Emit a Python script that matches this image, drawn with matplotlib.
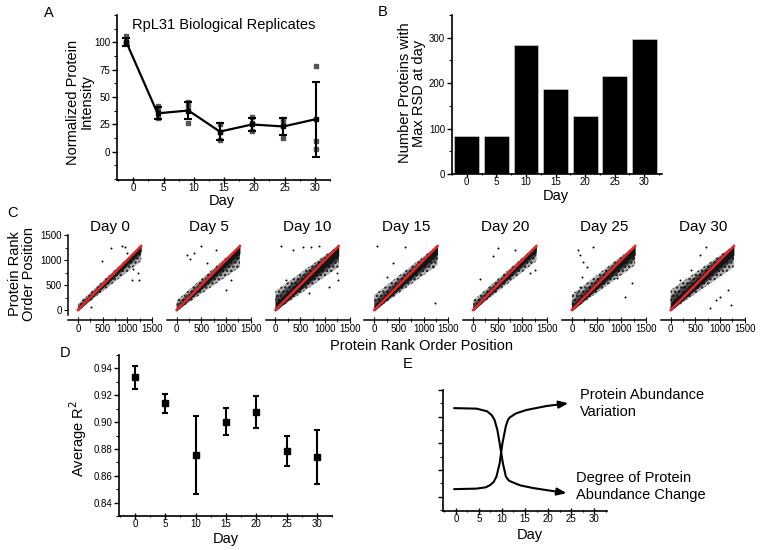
import numpy as np
import matplotlib
matplotlib.use("Agg")
import matplotlib.pyplot as plt
from matplotlib.ticker import MultipleLocator, NullFormatter

plt.rcParams['font.family'] = ['Liberation Sans', 'DejaVu Sans']
plt.rcParams['hatch.linewidth'] = 1.2

# ---------------- data ----------------
days = [0, 5, 10, 15, 20, 25, 30]

# Panel A
a_xpos = [-1.15, 4.0, 9.1, 14.3, 19.6, 24.8, 30.2]
a_mean = [100, 35, 37.6, 18.3, 24.8, 23, 29.7]
a_err = [3.5, 5.5, 7.6, 7.7, 6.3, 7.6, 34.3]
a_rep1 = [106, 42, 45, 25.4, 32, 29.7, 78]
a_rep2 = [101, 39, 42, 18, 26.6, 27, 10]
a_rep3 = [99, 31, 26.6, 10.7, 19.3, 12, 2]

# Panel B
b_counts = [83, 83, 285, 188, 127, 216, 298]

# Panel C  (cloud extent around the diagonal, read at rank 0 and at max rank)
c_titles = ['Day 0', 'Day 5', 'Day 10', 'Day 15', 'Day 20', 'Day 25', 'Day 30']
rank_max = 1280
c_inner_lo = [(-50, -110), (-60, -150), (-120, -200), (-100, -170), (-60, -120), (-100, -170), (-100, -180)]
c_inner_hi = [(50, 110), (60, 120), (150, 200), (100, 160), (60, 120), (100, 160), (150, 210)]
c_mid_lo = [(-70, -180), (-90, -260), (-210, -300), (-170, -270), (-100, -200), (-170, -270), (-180, -280)]
c_mid_hi = [(80, 180), (110, 210), (260, 300), (180, 260), (120, 200), (180, 260), (270, 330)]
c_outer_lo = [(-90, -300), (-120, -420), (-300, -420), (-260, -380), (-170, -300), (-260, -380), (-300, -420)]
c_outer_hi = [(120, 260), (190, 310), (380, 430), (300, 380), (190, 300), (310, 380), (400, 450)]
c_out_x = [
    [662, 885, 953, 480, 1088, 1223, 1243, 1122, 257, 986],
    [216, 270, 351, 486, 993, 790, 621, 1095],
    [108, 345, 547, 716, 885, 1250, 1257, 1088, 682, 209, 345],
    [61, 385, 622, 1230, 1196, 1061, 250],
    [514, 142, 412, 1257, 1155, 851, 1020],
    [128, 162, 230, 297, 162, 95, 432, 905, 1209, 1074, 196],
    [182, 250, 588, 723, 791, 926, 993, 1230, 1162, 419],
]
c_out_y = [
    [1233, 1280, 1253, 987, 600, 733, 600, 813, 53, 1133],
    [1100, 1013, 1133, 1280, 400, 1200, 933, 600],
    [1280, 1200, 1267, 1267, 1280, 733, 600, 467, 333, 600, 400],
    [1280, 947, 1267, 133, 867, 1067, 667],
    [1233, 613, 1080, 800, 733, 1200, 1000],
    [1200, 1100, 967, 867, 467, 333, 1267, 633, 533, 267, 667],
    [600, 467, 1100, 1267, 33, 200, 267, 100, 400, 800],
]

# Panel D
d_mean = [0.9335, 0.9141, 0.8756, 0.9004, 0.9074, 0.8786, 0.8738]
d_err = [0.0085, 0.007, 0.029, 0.0098, 0.0118, 0.0113, 0.0203]

# Panel E (schematic curves)
e_var_x = [-0.4, 4.5, 6.5, 7.4, 8.2, 8.8, 9.5, 10.1, 10.85, 11.3, 11.7, 13.0, 15.3, 19.7, 24.4]
e_var_y = [1.28, 1.3, 1.35, 1.43, 1.55, 1.75, 2.25, 3.0, 3.65, 3.88, 3.97, 4.12, 4.25, 4.4, 4.5]
e_chg_x = [-0.4, 4.5, 6.8, 7.8, 8.4, 9.0, 9.5, 10.2, 10.85, 11.5, 12.4, 14.0, 16.8, 24.0]
e_chg_y = [4.32, 4.3, 4.2, 4.05, 3.87, 3.5, 3.0, 2.25, 1.75, 1.6, 1.53, 1.42, 1.32, 1.13]

# ---------------- layout helpers ----------------
W, H = 762, 550
fig = plt.figure(figsize=(W / 100, H / 100), dpi=100)


def add_ax(l, t, r, b):
    return fig.add_axes([l / W, 1 - b / H, (r - l) / W, (b - t) / H])


def ftext(x, y, s, **kw):
    return fig.text(x / W, 1 - y / H, s, **kw)


def style(ax, lw=1.2):
    for s in ['top', 'right']:
        ax.spines[s].set_visible(False)
    for s in ['left', 'bottom']:
        ax.spines[s].set_linewidth(lw)
    ax.tick_params(axis='both', which='major', labelsize=7, width=1.0, length=3.5, pad=1.5)
    ax.tick_params(axis='both', which='minor', width=0.8, length=2)
    ax.tick_params(axis='x', which='both', direction='inout')
    ax.tick_params(axis='x', which='major', length=4, pad=0.5)


LBL = 10.5

# ---------------- Panel A ----------------
axA = add_ax(117, 15, 330, 180)
style(axA)
axA.set_xlim(-2.7, 32.5)
axA.set_ylim(-26, 125)
axA.xaxis.set_major_locator(MultipleLocator(5))
axA.xaxis.set_minor_locator(MultipleLocator(2.5))
axA.set_yticks([0, 25, 50, 75, 100])
axA.yaxis.set_minor_locator(MultipleLocator(12.5))
for rep in (a_rep1, a_rep2, a_rep3):
    axA.plot(a_xpos, rep, linestyle='none', marker='s', ms=3.2, color='#555555', zorder=2)
axA.errorbar(a_xpos, a_mean, yerr=a_err, fmt='s-', color='black', ms=3, lw=1.6,
             elinewidth=1.5, capsize=2.6, capthick=1.5, zorder=3)
ftext(224, 25, 'RpL31 Biological Replicates', ha='center', va='center', fontsize=10.5)
ftext(80, 102, 'Normalized Protein\nIntensity', rotation=90, ha='center', va='center',
      fontsize=LBL, linespacing=1.0)
ftext(222, 201, 'Day', ha='center', va='center', fontsize=LBL)
ftext(49, 13, 'A', ha='center', va='center', fontsize=10.5)

# ---------------- Panel B ----------------
axB = add_ax(452, 15, 662, 174)
style(axB)
axB.set_xlim(-2.5, 33)
axB.set_ylim(0, 350)
axB.bar(days, b_counts, width=4.2, color='black', edgecolor='#dddddd', linewidth=0.4)
axB.xaxis.set_major_locator(MultipleLocator(5))
axB.xaxis.set_minor_locator(MultipleLocator(2.5))
axB.set_yticks([0, 100, 200, 300])
axB.yaxis.set_minor_locator(MultipleLocator(50))
ftext(412, 93, 'Number Proteins with\nMax RSD at day', rotation=90, ha='center', va='center',
      fontsize=LBL, linespacing=1.0)
ftext(556, 196, 'Day', ha='center', va='center', fontsize=LBL)
ftext(383, 12, 'B', ha='center', va='center', fontsize=10.5)

# ---------------- Panel C ----------------
for i, title in enumerate(c_titles):
    left = 68 + 98.8 * i
    ax = add_ax(left, 235, left + 84, 320)
    for s in ['top', 'right']:
        ax.spines[s].set_visible(False)
    ax.set_xlim(-200, 1500)
    ax.set_ylim(-200, 1500)
    xs = np.array([0, rank_max])

    def band(lo, hi):
        l = np.maximum(xs + np.array(lo), -20)
        h = np.minimum(xs + np.array(hi), rank_max + 10)
        return l, h

    l, h = band(c_outer_lo[i], c_outer_hi[i])
    ax.fill_between(xs, l, h, facecolor='#b0b0b0', edgecolor='#1a1a1a', hatch='....', lw=0, zorder=1)
    l, h = band(c_mid_lo[i], c_mid_hi[i])
    ax.fill_between(xs, l, h, facecolor='#4a4a4a', edgecolor='#111111', hatch='....', lw=0, zorder=2)
    l, h = band(c_inner_lo[i], c_inner_hi[i])
    ax.fill_between(xs, l, h, color='#151515', lw=0, zorder=3)
    ax.scatter(c_out_x[i], c_out_y[i], s=2.0, color='black', zorder=3, linewidths=0)
    ax.plot(xs, xs, color='#e8262a', lw=1.8, zorder=4)
    ax.set_xticks([0, 500, 1000, 1500])
    ax.xaxis.set_minor_locator(MultipleLocator(250))
    ax.spines['bottom'].set_linewidth(1.1)
    ax.tick_params(axis='x', which='major', labelsize=7, direction='inout', length=4, pad=1)
    ax.tick_params(axis='x', which='minor', direction='inout', length=2.5)
    if i == 0:
        ax.spines['left'].set_linewidth(1.1)
        ax.spines['left'].set_bounds(-100, 1500)
        ax.set_yticks([0, 500, 1000, 1500])
        ax.yaxis.set_minor_locator(MultipleLocator(250))
        ax.tick_params(axis='y', which='major', labelsize=7, direction='out', length=3, pad=1.5)
        ax.tick_params(axis='y', which='minor', direction='out', length=2)
    else:
        ax.spines['left'].set_visible(False)
        ax.set_yticks([])
    ax.set_title(title, fontsize=11, pad=3)
ftext(22, 274, 'Protein Rank\nOrder Position', rotation=90, ha='center', va='center',
      fontsize=LBL, linespacing=1.0)
ftext(421, 346, 'Protein Rank Order Position', ha='center', va='center', fontsize=LBL)
ftext(12, 213, 'C', ha='center', va='center', fontsize=10.5)

# ---------------- Panel D ----------------
axD = add_ax(119, 355, 332, 516)
style(axD)
axD.set_xlim(-2.64, 32.5)
axD.set_ylim(0.830, 0.950)
axD.xaxis.set_major_locator(MultipleLocator(5))
axD.xaxis.set_minor_locator(MultipleLocator(2.5))
axD.set_yticks([0.84, 0.86, 0.88, 0.90, 0.92, 0.94])
axD.yaxis.set_minor_locator(MultipleLocator(0.01))
axD.yaxis.set_major_formatter(matplotlib.ticker.FormatStrFormatter('%.2f'))
axD.errorbar(days, d_mean, yerr=d_err, fmt='s', color='black', ms=4.2, elinewidth=1.5,
             capsize=2.4, capthick=1.5)
ftext(78, 439, 'Average R$^2$', rotation=90, ha='center', va='center', fontsize=LBL)
ftext(226, 539, 'Day', ha='center', va='center', fontsize=LBL)
ftext(65, 353, 'D', ha='center', va='center', fontsize=10.5)

# ---------------- Panel E ----------------
axE = add_ax(443, 390, 607, 511)
style(axE)
axE.set_xlim(-2.8, 32.8)
axE.set_ylim(0.46, 5.0)
axE.xaxis.set_major_locator(MultipleLocator(5))
axE.xaxis.set_minor_locator(MultipleLocator(2.5))
axE.set_yticks([1, 2, 3, 4, 5])
axE.yaxis.set_major_formatter(NullFormatter())
axE.yaxis.set_minor_locator(MultipleLocator(0.5))
for cx, cy in ((e_var_x, e_var_y), (e_chg_x, e_chg_y)):
    axE.plot(cx[:-1], cy[:-1], color='black', lw=1.5, solid_capstyle='round')
    axE.annotate('', xy=(cx[-1], cy[-1]), xytext=(cx[-2], cy[-2]),
                 arrowprops=dict(arrowstyle='-|>,head_length=0.55,head_width=0.22',
                                 color='black', lw=1.5, shrinkA=0, shrinkB=0))
ftext(580, 388, 'Protein Abundance\nVariation', ha='left', va='top', fontsize=10.5,
      linespacing=1.25)
ftext(576, 471, 'Degree of Protein\nAbundance Change', ha='left', va='top', fontsize=10.5,
      linespacing=1.25)
ftext(530, 535, 'Day', ha='center', va='center', fontsize=LBL)
ftext(408, 364, 'E', ha='center', va='center', fontsize=10.5)

fig.savefig('out.png', dpi=100)
